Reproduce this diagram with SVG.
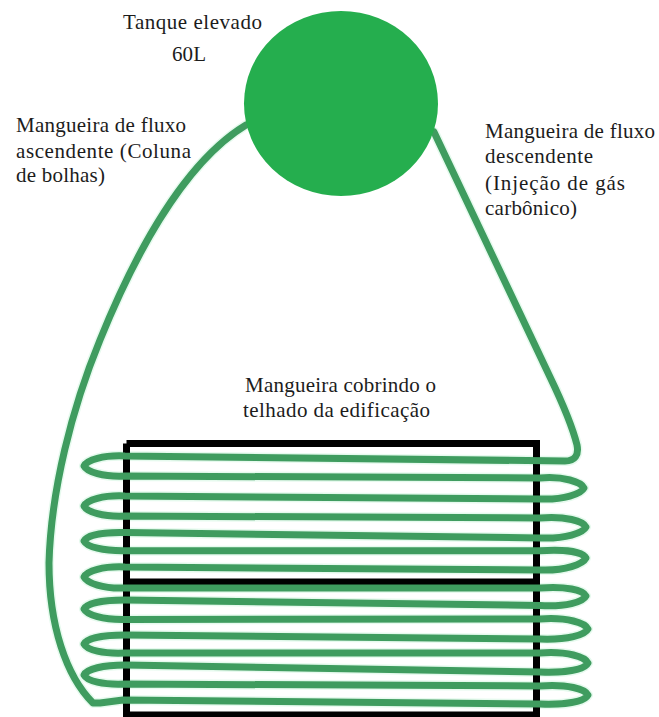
<svg xmlns="http://www.w3.org/2000/svg" width="659" height="717" viewBox="0 0 659 717">
<style>
text{font-family:"Liberation Serif","Times New Roman",serif;font-size:21px;fill:#1c1c1c}
.halo{fill:none;stroke:#e6faee;stroke-width:10;stroke-linejoin:round;stroke-linecap:round}
.hose{fill:none;stroke:#3f9c5f;stroke-width:7;stroke-linejoin:round;stroke-linecap:round}
</style>
<defs>
<path id="route" d="M434,132 L550,377 C562,402 572,425 577,445 C579,455 575,461 565,461 L125,456
C103,455 87,460 84,466 C87,472 103,477 125,476 L540,478
C564,476 581,482 584,488 C581,494 564,500 540,499 L125,496
C103,495 87,500 84,506 C87,512 103,517 125,516 L540,518
C566,516 583,521 586,527 C583,533 566,539 540,538 L125,532.500
C103,532 87,535 84,541 C87,547 103,551 125,550.700 L540,550.700
C566,549 583,552 586,558 C583,564 566,571 540,570 L125,567
C103,566 87,571 84,577 C87,583 103,589 125,588 L540,588
C566,586 583,590 586,596 C583,602 566,607 540,605.500 L125,600
C103,600 87,603 84,609 C87,615 103,620 125,619.500 L540,619
C568,617 585,623 588,629 C585,635 568,640 540,639 L125,635
C103,635 87,638 84,644 C87,650 103,654 125,653 L540,653
C568,651 585,657 588,663 C585,669 568,673 540,672 L125,665
C103,665 87,669 84,675 C87,681 103,685 125,684 L540,686
C568,684 585,689 588,695 C585,701 568,705 540,704 L123,700 L100,703 L93,703
C66,676 49,625 49,563 C51,490 72,408 100,340 C130,266 180,165 246,125"/>
</defs>
<rect width="659" height="717" fill="#fff"/>
<g id="connectors-halo">
<use href="#route" class="halo"/>
</g>
<g id="telhado">
<path d="M126.500,443.500H536.500V720M126.500,443.500V720M126.500,582H536.500M126.500,715H536.500" fill="none" stroke="#000" stroke-width="7"/>
</g>
<g id="connectors">
<use href="#route" class="hose"/>
</g>
<g id="tanque">
<ellipse cx="341" cy="103.500" rx="97" ry="92.500" fill="#25ae4e"/>
</g>
<g id="labels">
<text x="123" y="29" textLength="139" lengthAdjust="spacing">Tanque elevado</text>
<text x="172" y="61" textLength="34" lengthAdjust="spacing">60L</text>
<text x="16" y="132" textLength="170" lengthAdjust="spacing">Mangueira de fluxo</text>
<text x="16" y="158" textLength="175" lengthAdjust="spacing">ascendente (Coluna</text>
<text x="16" y="182" textLength="89" lengthAdjust="spacing">de bolhas)</text>
<text x="485" y="138" textLength="170" lengthAdjust="spacing">Mangueira de fluxo</text>
<text x="485" y="163" textLength="108" lengthAdjust="spacing">descendente</text>
<text x="485" y="190" textLength="140" lengthAdjust="spacing">(Injeção de gás</text>
<text x="485" y="215" textLength="92" lengthAdjust="spacing">carbônico)</text>
<text x="245" y="392" textLength="191" lengthAdjust="spacing">Mangueira cobrindo o</text>
<text x="243" y="417" textLength="187" lengthAdjust="spacing">telhado da edificação</text>
</g>
</svg>
